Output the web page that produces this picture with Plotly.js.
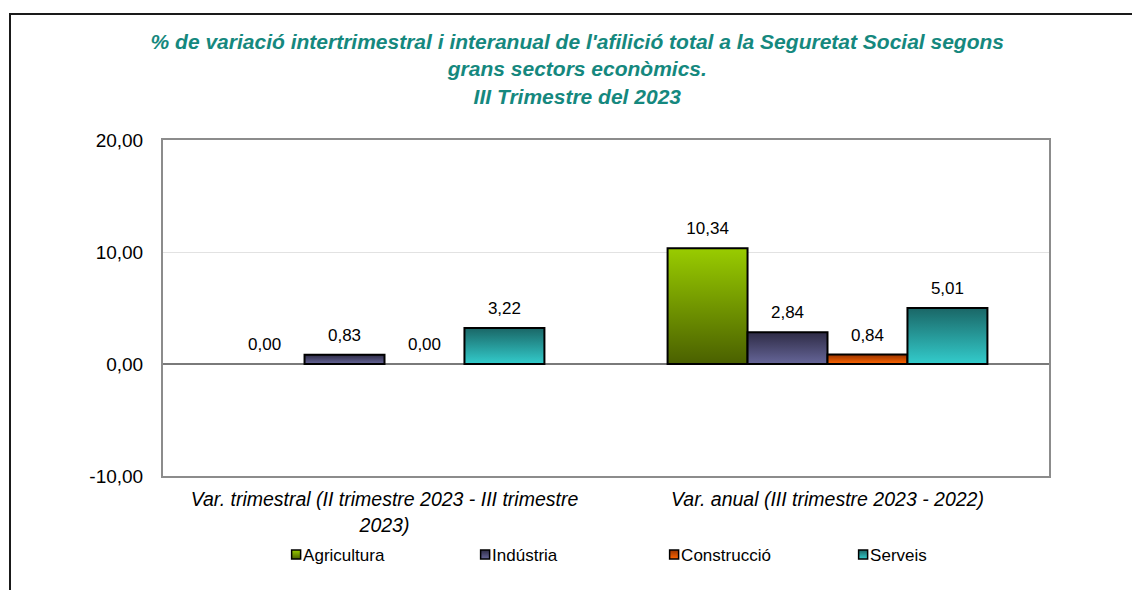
<!DOCTYPE html>
<html><head><meta charset="utf-8">
<script src="https://cdn.plot.ly/plotly-3.0.1.min.js"></script>
<style>
html,body{margin:0;padding:0;overflow:hidden;background:#fff}
#chart{width:1132px;height:590px}
#frame{position:absolute;left:9px;top:13px;width:1300px;height:800px;border-top:2px solid #1a1a1a;border-left:2px solid #1a1a1a;pointer-events:none}
</style></head><body>
<div id="chart"></div><div id="frame"></div>
<script>
const categories = ["Var. trimestral (II trimestre 2023 - III trimestre<br>2023)", "Var. anual (III trimestre 2023 - 2022)"];
const seriesNames = ["Agricultura", "Indústria", "Construcció", "Serveis"];
const agricultura = [0.00, 10.34];
const industria = [0.83, 2.84];
const construccio = [0.00, 0.84];
const serveis = [3.22, 5.01];
const yTickVals = [-10, 0, 10, 20];
const yTickText = ["-10,00", "0,00", "10,00", "20,00"];

const seriesValues = [agricultura, industria, construccio, serveis];
const baseColors = ["#739900", "#4a4770", "#d95200", "#269999"];
const gradStops = [["#99cc00", "#4a6000"], ["#2e2b45", "#666699"], ["#993300", "#ff6600"], ["#1a6666", "#33cccc"]];
const FONT = "Arial, 'Liberation Sans', sans-serif";

const traces = seriesNames.map((name, i) => ({
  type: "bar", name: name, x: categories, y: seriesValues[i],
  marker: {color: baseColors[i], line: {color: "#000", width: seriesValues[i].map(v => v === 0 ? 0 : 2)}},
  texttemplate: "%{y:.2f}", textposition: "outside", cliponaxis: false,
  textfont: {family: FONT, size: 17, color: "#000"},
  hoverinfo: "skip"
}));

const layout = {
  width: 1132, height: 590,
  margin: {l: 163, r: 83, t: 140, b: 114},
  paper_bgcolor: "#fff", plot_bgcolor: "#fff",
  separators: ",.",
  barmode: "group", bargap: 0.278, bargroupgap: 0,
  font: {family: FONT, color: "#000"},
  title: {
    text: "% de variació intertrimestral i interanual de l'afilició total a la Seguretat Social segons<br>grans sectors econòmics.<br>III Trimestre del 2023",
    font: {family: FONT, size: 21, color: "#15887e", weight: "bold", style: "italic"},
    xref: "container", x: 0.51, xanchor: "center", yref: "container", y: 0.917, yanchor: "middle"
  },
  xaxis: {
    type: "category", showline: true, mirror: true, linecolor: "#8c8c8c", linewidth: 2,
    ticks: "", showgrid: false, ticklabelstandoff: 5,
    tickfont: {family: FONT, size: 19.5, color: "#000", style: "italic"}
  },
  yaxis: {
    range: [-10, 20], tickvals: yTickVals, ticktext: yTickText,
    showline: true, mirror: true, linecolor: "#8c8c8c", linewidth: 2,
    showgrid: true, gridcolor: "#e2e2e2", gridwidth: 1,
    zeroline: true, zerolinecolor: "#7a7a7a", zerolinewidth: 1.5,
    ticks: "", ticklabelstandoff: 14,
    tickfont: {family: FONT, size: 19, color: "#000"}
  },
  showlegend: true,
  legend: {
    orientation: "h", x: 0.113, xanchor: "left", y: -0.235, yanchor: "middle",
    font: {family: FONT, size: 17, color: "#000"},
    entrywidth: 144, entrywidthmode: "pixels", itemwidth: 30,
    bgcolor: "rgba(0,0,0,0)", traceorder: "normal"
  }
};

Plotly.newPlot("chart", traces, layout, {staticPlot: true, displayModeBar: false}).then(gd => {
  const svg = gd.querySelector("svg.main-svg");
  const ns = "http://www.w3.org/2000/svg";
  let defs = svg.querySelector("defs");
  if (!defs) { defs = document.createElementNS(ns, "defs"); svg.insertBefore(defs, svg.firstChild); }
  gradStops.forEach((st, i) => {
    const lg = document.createElementNS(ns, "linearGradient");
    lg.setAttribute("id", "bargrad" + i);
    lg.setAttribute("x1", "0"); lg.setAttribute("y1", "0");
    lg.setAttribute("x2", "0"); lg.setAttribute("y2", "1");
    [[0, st[0]], [1, st[1]]].forEach(([o, c]) => {
      const s = document.createElementNS(ns, "stop");
      s.setAttribute("offset", o); s.setAttribute("stop-color", c);
      lg.appendChild(s);
    });
    defs.appendChild(lg);
  });
  gd.querySelectorAll(".barlayer .trace.bars").forEach((tr, i) => {
    tr.querySelectorAll("path").forEach(p => { p.style.fill = "url(#bargrad" + i + ")"; });
    tr.querySelectorAll("text.bartext").forEach(t => {
      const tf = t.getAttribute("transform") || "";
      t.setAttribute("transform", "translate(0,-7) " + tf);
    });
  });
  gd.querySelectorAll(".legend .traces").forEach((tr, i) => {
    tr.querySelectorAll(".legendpoints path").forEach(p => {
      p.style.fill = "url(#bargrad" + i + ")";
      p.style.stroke = "#000"; p.style.strokeWidth = "1.5px";
      p.setAttribute("d", "M4.5,4.5H-4.5V-4.5H4.5Z");
      p.setAttribute("transform", "translate(33,0)");
    });
  });
});
</script>
</body></html>
